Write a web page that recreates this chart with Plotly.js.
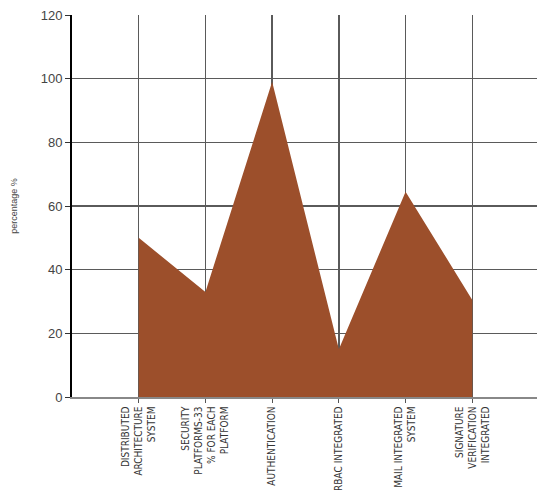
<!DOCTYPE html>
<html>
<head>
<meta charset="utf-8">
<script src="https://cdn.plot.ly/plotly-3.0.1.min.js"></script>
<style>html,body{margin:0;padding:0;background:#fff;}#chart{width:539px;height:495px;}</style>
</head>
<body>
<div id="chart"></div>
<script>
const positions = [1, 2, 3, 4, 5, 6];
const categories = [
  "DISTRIBUTED<br>ARCHITECTURE<br>SYSTEM",
  "SECURITY<br>PLATFORMS-33<br>% FOR EACH<br>PLATFORM",
  "AUTHENTICATION",
  "RBAC INTEGRATED",
  "MAIL INTEGRATED<br>SYSTEM",
  "SIGNATURE<br>VERIFICATION<br>INTEGRATED"
];
const values = [50, 33, 99, 15, 64.5, 30.5];
const yTicks = [0, 20, 40, 60, 80, 100, 120];

const trace = {
  x: positions,
  y: values,
  type: 'scatter',
  mode: 'lines',
  fill: 'tozeroy',
  fillcolor: '#9C4F2B',
  line: {width: 0, color: '#9C4F2B'},
  hoverinfo: 'skip'
};

const layout = {
  width: 539, height: 495,
  margin: {l: 72, r: 2, t: 15, b: 98},
  paper_bgcolor: '#fff', plot_bgcolor: '#fff',
  showlegend: false,
  xaxis: {
    range: [0, 6.97],
    tickvals: positions,
    ticktext: categories,
    tickangle: -90,
    ticks: 'outside', ticklen: 4, tickcolor: '#555',
    showgrid: true, gridcolor: '#5a5a5a', gridwidth: 1.5,
    zeroline: false,
    showline: true, linecolor: '#888', linewidth: 1.5,
    tickfont: {family: 'Liberation Sans Narrow, Arial Narrow, DejaVu Sans Condensed, sans-serif', size: 10, color: '#333'},
    layer: 'above traces'
  },
  yaxis: {
    range: [0, 120],
    tickvals: yTicks,
    ticks: 'outside', ticklen: 5, tickcolor: '#333',
    showgrid: true, gridcolor: '#5a5a5a', gridwidth: 1.5,
    zeroline: false,
    showline: true, linecolor: '#000', linewidth: 2,
    tickfont: {family: 'Liberation Sans, Arial, sans-serif', size: 13, color: '#444'},
    title: {text: 'percentage %', font: {family: 'Liberation Sans Narrow, Arial Narrow, sans-serif', size: 9, color: '#444'}, standoff: 22}
  }
};

Plotly.newPlot('chart', [trace], layout, {displayModeBar: false, staticPlot: true});
</script>
</body>
</html>
